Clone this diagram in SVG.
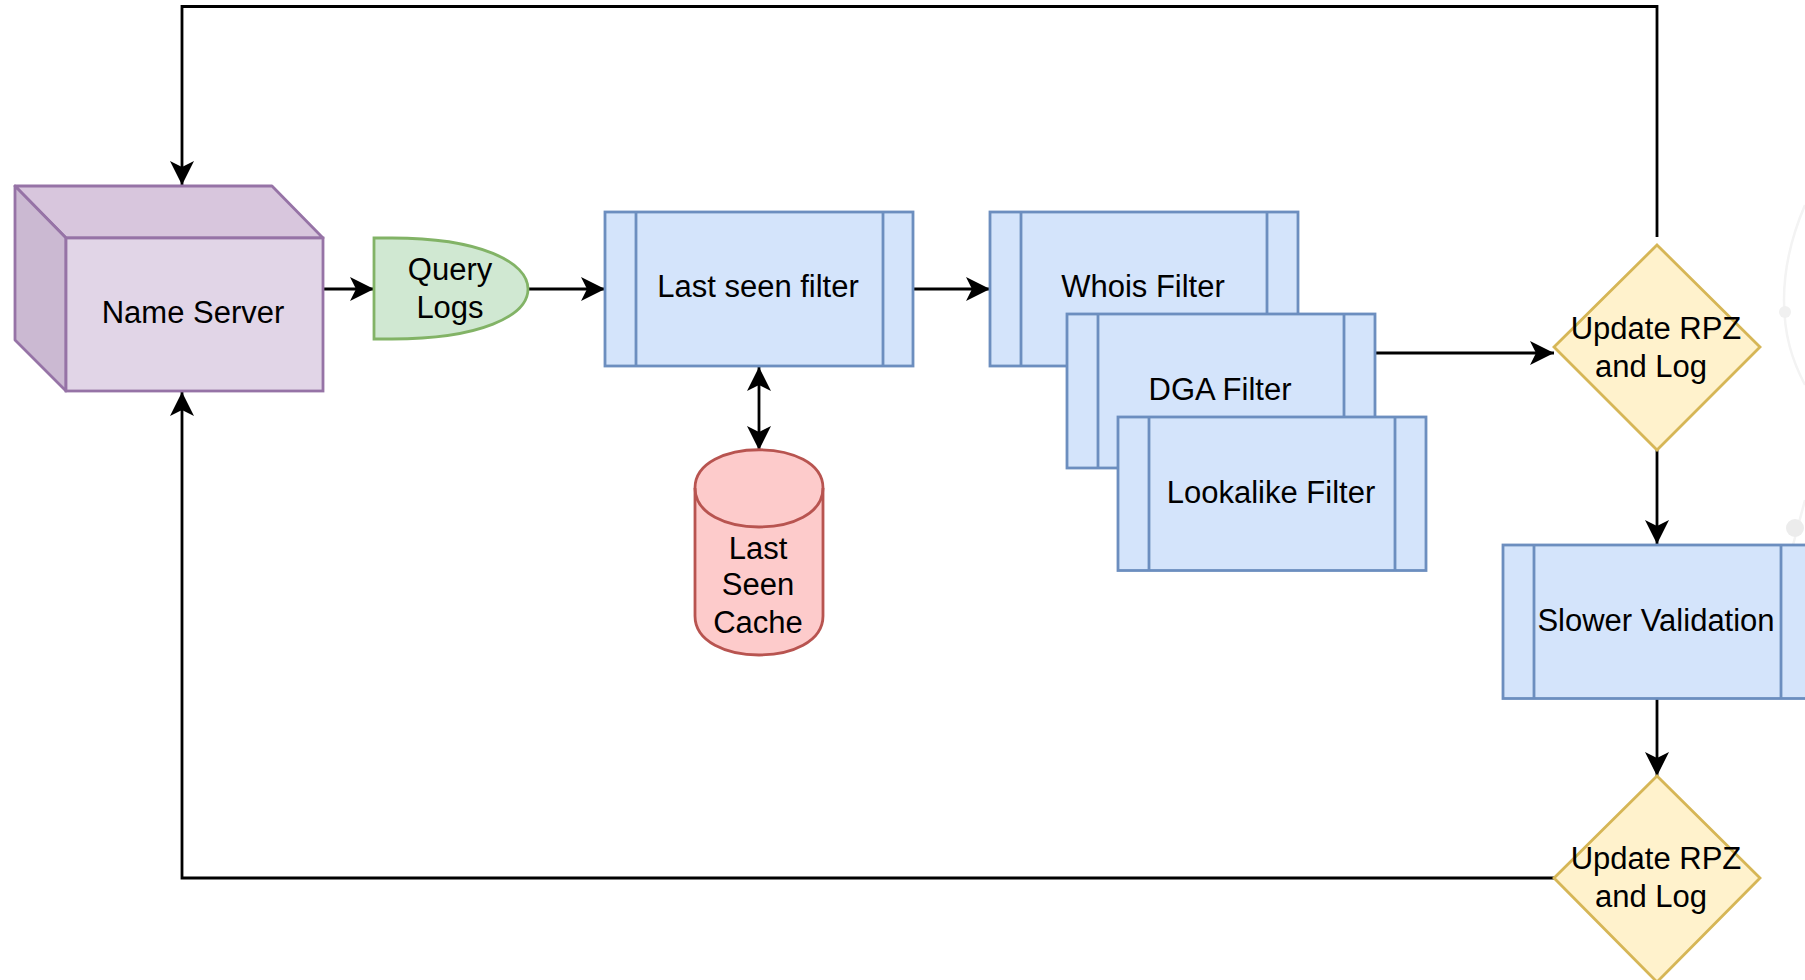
<svg xmlns="http://www.w3.org/2000/svg" width="1805" height="980" viewBox="0 0 1805 980">
<style>
text{font-family:"Liberation Sans",Arial,sans-serif;font-size:31px;fill:#000;text-anchor:middle}
.p rect,.p line{fill:#d4e4fb;stroke:#6c8ebf;stroke-width:2.8}
.c path{fill:none;stroke:#000;stroke-width:2.8}
.d polygon{fill:#fff2cc;stroke:#d6b656;stroke-width:2.8}
</style>
<defs>
<marker id="a" markerUnits="userSpaceOnUse" markerWidth="26" markerHeight="24" refX="24" refY="12" orient="auto-start-reverse"><path d="M0 0L24 12L0 24L6 12Z" fill="#000"/></marker>
</defs>
<rect width="1805" height="980" fill="#fff"/>
<g id="background-marks">
<path d="M1805 205C1790 240 1784 270 1784 300C1784 335 1792 360 1805 385M1805 500L1793 545" fill="none" stroke="#f3f3f3" stroke-width="2.5"/>
<circle cx="1785" cy="312" r="6" fill="#f0f0f0"/>
<circle cx="1795" cy="528" r="9" fill="#ececec"/>
</g>
<g id="connectors" class="c">
<path d="M1657 237V6.500H182V185" marker-end="url(#a)"/>
<path d="M1554 878H182V392" marker-end="url(#a)"/>
<path d="M323 289H374" marker-end="url(#a)"/>
<path d="M528 289H605" marker-end="url(#a)"/>
<path d="M913 289H990" marker-end="url(#a)"/>
<path d="M759 367V450" marker-start="url(#a)" marker-end="url(#a)"/>
<path d="M1376 353H1554" marker-end="url(#a)"/>
<path d="M1657 450V544" marker-end="url(#a)"/>
<path d="M1657 699V776" marker-end="url(#a)"/>
</g>
<g id="name-server">
<polygon points="15,186 272,186 323,238 66,238" fill="#d8c6dd" stroke="#9673a6" stroke-width="2.8" stroke-linejoin="round"/>
<polygon points="15,186 66,238 66,391 15,340" fill="#cbb9d2" stroke="#9673a6" stroke-width="2.8" stroke-linejoin="round"/>
<rect x="66" y="238" width="257" height="153" fill="#e1d5e7" stroke="#9673a6" stroke-width="2.8"/>
<text x="193" y="323">Name Server</text>
</g>
<g id="query-logs">
<path d="M374 238H392C480 238 528 262 528 289C528 316 480 339 392 339H374Z" fill="#d0e8d2" stroke="#82b366" stroke-width="2.8"/>
<text x="450" y="280">Query</text><text x="450" y="318">Logs</text>
</g>
<g id="last-seen-filter" class="p">
<rect x="605" y="212" width="308" height="154"/><line x1="636" y1="212" x2="636" y2="366"/><line x1="883" y1="212" x2="883" y2="366"/>
<text x="758" y="297">Last seen filter</text>
</g>
<g id="last-seen-cache">
<path d="M695 488C695 437 823 437 823 488V616C823 668 695 668 695 616Z" fill="#fdcbcb" stroke="#b85450" stroke-width="2.8"/>
<path d="M695 488C695 540 823 540 823 488" fill="none" stroke="#b85450" stroke-width="2.8"/>
<text x="758" y="559">Last</text><text x="758" y="595">Seen</text><text x="758" y="633">Cache</text>
</g>
<g id="whois-filter" class="p">
<rect x="990" y="212" width="308" height="154"/><line x1="1021" y1="212" x2="1021" y2="366"/><line x1="1267" y1="212" x2="1267" y2="366"/>
<text x="1143" y="297">Whois Filter</text>
</g>
<g id="dga-filter" class="p">
<rect x="1067" y="314" width="308" height="154"/><line x1="1098" y1="314" x2="1098" y2="468"/><line x1="1344" y1="314" x2="1344" y2="468"/>
<text x="1220" y="400">DGA Filter</text>
</g>
<g id="lookalike-filter" class="p">
<rect x="1118" y="417" width="308" height="153.500"/><line x1="1149" y1="417" x2="1149" y2="570.500"/><line x1="1395" y1="417" x2="1395" y2="570.500"/>
<text x="1271" y="503">Lookalike Filter</text>
</g>
<g id="update-rpz-1" class="d">
<polygon points="1657,245 1760,347 1657,450 1554,347"/>
<text x="1656" y="339">Update RPZ</text><text x="1651" y="377">and Log</text>
</g>
<g id="slower-validation" class="p">
<rect x="1503" y="545" width="309" height="153.500"/><line x1="1534" y1="545" x2="1534" y2="698.500"/><line x1="1781" y1="545" x2="1781" y2="698.500"/>
<text x="1656" y="631">Slower Validation</text>
</g>
<g id="update-rpz-2" class="d">
<polygon points="1657,776 1760,878 1657,982 1554,878"/>
<text x="1656" y="869">Update RPZ</text><text x="1651" y="907">and Log</text>
</g>
</svg>
